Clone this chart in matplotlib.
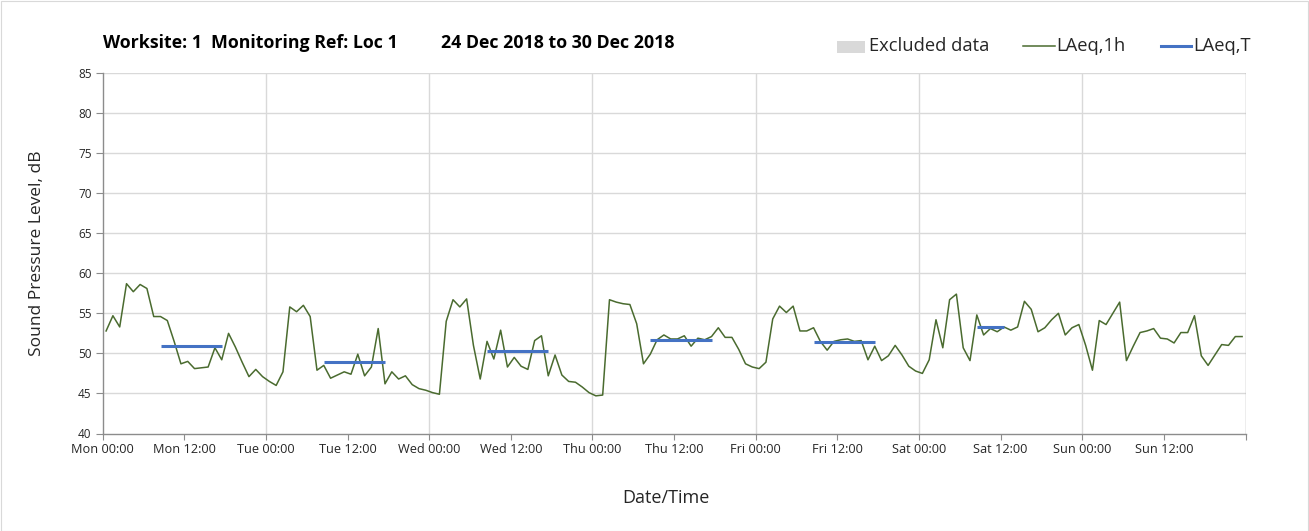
import numpy as np
import pandas as pd
import matplotlib
matplotlib.use("Agg")
import matplotlib.pyplot as plt
from matplotlib.patches import Rectangle
from matplotlib.lines import Line2D

plt.rcParams['font.family'] = ['Open Sans', 'DejaVu Sans']

# ---------------- data ----------------
start_time = "2018-12-24 00:30"
laeq_1h = [
    52.8, 54.7, 53.3, 58.7, 57.7, 58.6, 58.1, 54.6, 54.6, 54.1, 51.5, 48.7,
    49.0, 48.1, 48.2, 48.3, 50.7, 49.2, 52.5, 50.8, 48.9, 47.1, 48.0, 47.1,
    46.5, 46.0, 47.7, 55.8, 55.2, 56.0, 54.6, 47.9, 48.5, 46.9, 47.3, 47.7,
    47.4, 49.9, 47.2, 48.3, 53.1, 46.2, 47.7, 46.8, 47.2, 46.1, 45.6, 45.4,
    45.1, 44.9, 54.0, 56.7, 55.8, 56.8, 51.0, 46.8, 51.5, 49.3, 52.9, 48.3,
    49.5, 48.4, 48.0, 51.6, 52.2, 47.2, 49.8, 47.3, 46.5, 46.4, 45.8, 45.1,
    44.7, 44.8, 56.7, 56.4, 56.2, 56.1, 53.7, 48.7, 49.9, 51.7, 52.3, 51.8,
    51.8, 52.2, 50.9, 51.9, 51.7, 52.1, 53.2, 52.0, 52.0, 50.5, 48.7, 48.3,
    48.1, 48.9, 54.3, 55.9, 55.1, 55.9, 52.8, 52.8, 53.2, 51.5, 50.4, 51.5,
    51.7, 51.8, 51.5, 51.6, 49.2, 50.9, 49.1, 49.7, 51.0, 49.8, 48.4, 47.8,
    47.5, 49.2, 54.2, 50.7, 56.7, 57.4, 50.7, 49.1, 54.8, 52.3, 53.1, 52.7,
    53.3, 52.9, 53.3, 56.5, 55.5, 52.7, 53.2, 54.2, 55.0, 52.3, 53.2, 53.6,
    51.0, 47.9, 54.1, 53.6, 55.0, 56.4, 49.1, 50.9, 52.6, 52.8, 53.1, 51.9,
    51.8, 51.3, 52.6, 52.6, 54.7, 49.7, 48.5, 49.8, 51.1, 51.0, 52.1, 52.1,
]
laeq_t_start = ["2018-12-24 08:30", "2018-12-25 08:30", "2018-12-26 08:30",
                "2018-12-27 08:30", "2018-12-28 08:30", "2018-12-29 08:30"]
laeq_t_end = ["2018-12-24 17:30", "2018-12-25 17:30", "2018-12-26 17:30",
              "2018-12-27 17:30", "2018-12-28 17:30", "2018-12-29 12:30"]
laeq_t = [50.9, 48.9, 50.3, 51.7, 51.4, 53.3]
y_ticks = [40, 45, 50, 55, 60, 65, 70, 75, 80, 85]
title_parts = ["Worksite: 1", "Monitoring Ref: Loc 1", "24 Dec 2018 to 30 Dec 2018"]
legend_labels = ["Excluded data", "LAeq,1h", "LAeq,T"]

times = pd.date_range(start_time, periods=len(laeq_1h), freq="h")

# ---------------- style ----------------
W, H = 1309, 531
GREEN = "#4a6b2f"
BLUE = "#4472c4"
GRID = "#d9d9d9"
SPINE = "#8c8c8c"
TXT = "#262626"

fig = plt.figure(figsize=(W / 100, H / 100), dpi=100)
fig.patches.append(Rectangle((0.5 / W, 0.5 / H), 1 - 1.5 / W, 1 - 1.5 / H,
                             transform=fig.transFigure, fill=False,
                             edgecolor=GRID, linewidth=0.8))

def fx(px):
    return px / W

def fy(py):
    return 1 - py / H

left, right, top, bottom = 102.7, 1245.5, 73.0, 433.5
ax = fig.add_axes([fx(left), fy(bottom), fx(right - left), (bottom - top) / H])

ax.plot(times, laeq_1h, color=GREEN, linewidth=1.1, zorder=3)
for s, e, v in zip(laeq_t_start, laeq_t_end, laeq_t):
    ax.plot([pd.Timestamp(s), pd.Timestamp(e)], [v, v], color=BLUE,
            linewidth=2.2, solid_capstyle="butt", zorder=4)

x0 = pd.Timestamp("2018-12-24 00:00")
x1 = pd.Timestamp("2018-12-31 00:00")
ax.set_xlim(x0, x1)
ax.set_ylim(40, 85)
ax.set_yticks(y_ticks)

ticks = pd.date_range(x0, x1, freq="12h")
ax.set_xticks(ticks)
ax.set_xticklabels([t.strftime("%a %H:%M") if t < x1 else "" for t in ticks])

# gridlines: horizontal at each y tick, vertical at each day
for y in y_ticks[1:]:
    ax.axhline(y, color=GRID, linewidth=1.0, zorder=1)
for d in pd.date_range(x0, x1, freq="D")[1:]:
    ax.axvline(d, color=GRID if d < x1 else "#a6a6a6", linewidth=1.0, zorder=1)

for side in ["top", "right"]:
    ax.spines[side].set_visible(False)
for side in ["left", "bottom"]:
    ax.spines[side].set_color(SPINE)
    ax.spines[side].set_linewidth(1.0)
ax.tick_params(axis="both", colors=SPINE, labelcolor=TXT, direction="out")
ax.tick_params(axis="x", length=4, pad=3, labelsize=9.2)
ax.tick_params(axis="y", length=5, pad=3, labelsize=8.5)

ax.set_ylabel("Sound Pressure Level, dB", fontsize=12.5, color=TXT)
ax.yaxis.set_label_coords((45 - left) / (right - left), 0.5)
fig.text(fx(666), fy(498), "Date/Time", fontsize=13, color=TXT,
         ha="center", va="center")

# title
for xpos, txt in zip([103, 211, 441], title_parts):
    fig.text(fx(xpos), fy(43), txt, fontsize=12.8, fontweight="bold",
             color="black", ha="left", va="center")

# legend (manual)
fig.patches.append(Rectangle((fx(837), fy(52.5)), fx(28), 11.5 / H,
                             transform=fig.transFigure, facecolor=GRID,
                             edgecolor="none"))
fig.text(fx(869), fy(46), legend_labels[0], fontsize=13.2, color=TXT,
         ha="left", va="center")
fig.lines.append(Line2D([fx(1023), fx(1055)], [fy(46), fy(46)],
                        transform=fig.transFigure, color=GREEN, linewidth=1.1))
fig.text(fx(1056), fy(46), legend_labels[1], fontsize=13.2, color=TXT,
         ha="left", va="center")
fig.lines.append(Line2D([fx(1161), fx(1191)], [fy(46), fy(46)],
                        transform=fig.transFigure, color=BLUE, linewidth=2.2))
fig.text(fx(1193), fy(46), legend_labels[2], fontsize=13.2, color=TXT,
         ha="left", va="center")

fig.savefig("out.png", dpi=100)
